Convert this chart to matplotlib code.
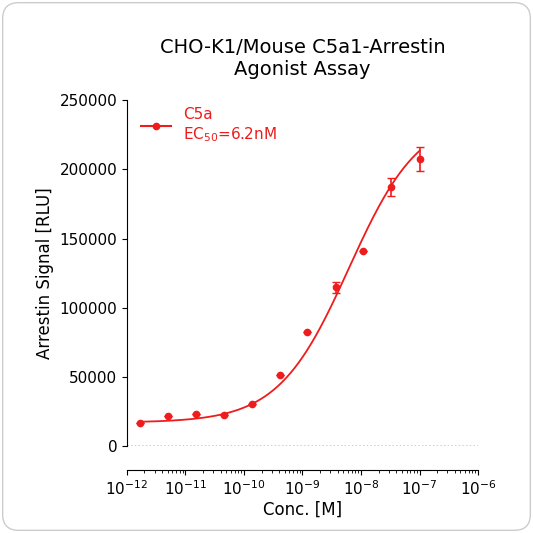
import numpy as np
import matplotlib
matplotlib.use("Agg")
import matplotlib.pyplot as plt
from matplotlib.patches import FancyBboxPatch

conc = [1.7e-12, 5.1e-12, 1.5e-11, 4.6e-11, 1.4e-10, 4.1e-10, 1.2e-9, 3.7e-9, 1.1e-8, 3.3e-8, 1e-7]
signal = [16600, 21700, 23100, 22400, 30300, 51300, 82400, 114900, 140900, 187100, 207500]
err = [0, 0, 0, 0, 0, 0, 0, 4000, 0, 6500, 9000]
bottom, top, ec50, hill = 17000, 240000, 6.2e-9, 0.72

red = "#ee1c1c"
fig = plt.figure(figsize=(5.33, 5.33), dpi=100)
fig.patch.set_alpha(0)
fig.patches.append(FancyBboxPatch((0.005, 0.005), 0.99, 0.99, boxstyle="round,pad=0,rounding_size=0.03",
                                  transform=fig.transFigure, fc="white", ec="#cccccc", lw=1, zorder=-10))
ax = fig.add_axes([0.238, 0.163, 0.659, 0.649])
ax.patch.set_alpha(0)
ax.set_xscale("log")
ax.set_xlim(1e-12, 1e-6)
ax.set_ylim(0, 250000)
xs = np.logspace(np.log10(conc[0]), -7, 200)
ys = bottom + (top - bottom) / (1 + (ec50 / xs) ** hill)
ax.plot(xs, ys, color=red, lw=1.3)
ax.errorbar(conc, signal, yerr=err, fmt="o", color=red, ms=4.5, capsize=3, elinewidth=1.2)
ax.plot([], [], "-o", color=red, ms=4.5, label="C5a\nEC$_{50}$=6.2nM")
ax.axhline(0, color="black", ls=":", lw=1)
ax.spines["top"].set_visible(False)
ax.spines["right"].set_visible(False)
ax.spines["bottom"].set_position(("outward", 17))
ax.set_yticks([0, 50000, 100000, 150000, 200000, 250000])
ax.set_xticks([1e-12, 1e-11, 1e-10, 1e-9, 1e-8, 1e-7, 1e-6])
ax.xaxis.set_minor_locator(matplotlib.ticker.LogLocator(subs=np.arange(2, 10), numticks=20))
ax.xaxis.set_minor_formatter(matplotlib.ticker.NullFormatter())
ax.tick_params(labelsize=11)
ax.set_xlabel("Conc. [M]", fontsize=12, labelpad=2)
ax.set_ylabel("Arrestin Signal [RLU]", fontsize=12)
ax.set_title("CHO-K1/Mouse C5a1-Arrestin\nAgonist Assay", fontsize=14, pad=18)
leg = ax.legend(loc="upper left", frameon=False, fontsize=11, handlelength=2, bbox_to_anchor=(0.0, 1.02))
for t in leg.get_texts():
    t.set_color(red)
fig.savefig("out.png", dpi=100, facecolor=(1, 1, 1, 0))
